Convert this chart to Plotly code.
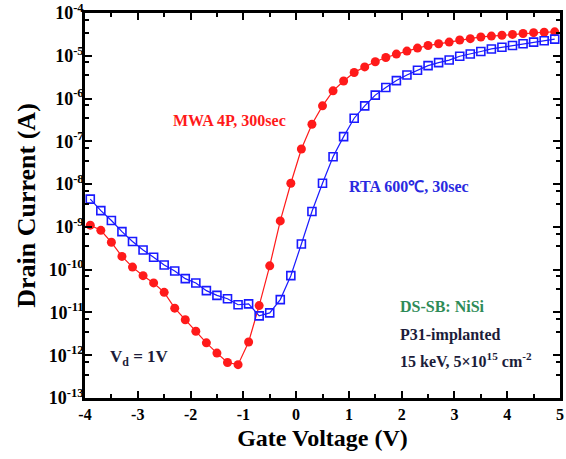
import plotly.graph_objects as go

# Gate voltage (V) sample points shared by both curves
vg = [-3.9, -3.7, -3.5, -3.3, -3.1, -2.9, -2.7, -2.5, -2.3, -2.1,
      -1.9, -1.7, -1.5, -1.3, -1.1, -0.9, -0.7, -0.5, -0.3, -0.1,
      0.1, 0.3, 0.5, 0.7, 0.9, 1.1, 1.3, 1.5, 1.7, 1.9,
      2.1, 2.3, 2.5, 2.7, 2.9, 3.1, 3.3, 3.5, 3.7, 3.9,
      4.1, 4.3, 4.5, 4.7, 4.9]

# log10 of drain current (A)
mwa_log = [-8.96, -9.08, -9.36, -9.69, -9.94, -10.14, -10.31, -10.53, -10.90, -11.17,
           -11.44, -11.71, -11.95, -12.17, -12.22, -11.69, -10.84, -9.91, -8.86, -7.98,
           -7.18, -6.60, -6.17, -5.82, -5.59, -5.39, -5.26, -5.14, -5.04, -4.96,
           -4.89, -4.82, -4.76, -4.72, -4.68, -4.63, -4.60, -4.56, -4.54, -4.52,
           -4.50, -4.48, -4.46, -4.45, -4.44]
rta_log = [-8.35, -8.62, -8.85, -9.11, -9.34, -9.54, -9.71, -9.89, -10.03, -10.21,
           -10.31, -10.49, -10.60, -10.68, -10.82, -10.80, -11.08, -11.01, -10.70, -10.14,
           -9.40, -8.64, -7.98, -7.36, -6.89, -6.46, -6.17, -5.92, -5.74, -5.58,
           -5.45, -5.34, -5.23, -5.16, -5.10, -5.01, -4.96, -4.90, -4.84, -4.80,
           -4.76, -4.72, -4.68, -4.65, -4.61]

mwa_current = [10 ** v for v in mwa_log]
rta_current = [10 ** v for v in rta_log]

x_ticks = [-4, -3, -2, -1, 0, 1, 2, 3, 4, 5]
x_ticklabels = ["-4", "-3", "-2", "-1", "0", "1", "2", "3", "4", "5"]
y_exponents = [-13, -12, -11, -10, -9, -8, -7, -6, -5, -4]
y_ticks = [10.0 ** e for e in y_exponents]
y_ticklabels = ["10<sup>%d</sup>" % e for e in y_exponents]
y_minor = [m * 10.0 ** e for e in y_exponents[:-1] for m in (3.5, 7)]

FONT = "Liberation Serif, Times New Roman, serif"

fig = go.Figure()
fig.add_trace(go.Scatter(
    x=vg, y=mwa_current, mode="lines+markers", name="MWA 4P, 300sec",
    line=dict(color="#ff1a1a", width=1.2),
    marker=dict(symbol="circle", size=9, color="#ff1a1a"),
))
fig.add_trace(go.Scatter(
    x=vg, y=rta_current, mode="lines+markers", name="RTA 600℃, 30sec",
    line=dict(color="#1a1aff", width=1.2),
    marker=dict(symbol="square-open", size=8, color="#1a1aff", line=dict(width=1.6)),
))

axis_common = dict(
    showline=True, linecolor="black", linewidth=2.5, mirror="ticks",
    ticks="inside", ticklen=7, tickwidth=2, tickcolor="black",
    showgrid=False, zeroline=False, automargin=False, ticklabeloverflow="allow",
)

fig.update_xaxes(
    range=[-4, 5], tickmode="array", tickvals=x_ticks, ticktext=x_ticklabels,
    tickfont=dict(family=FONT, size=16, color="black", weight="bold"),
    minor=dict(dtick=0.5, tick0=-4, ticks="inside", ticklen=4, tickwidth=2, tickcolor="black"),
    title=dict(text="Gate Voltage (V)", font=dict(family=FONT, size=24, color="black", weight="bold"),
               standoff=8),
    **axis_common,
)
fig.update_yaxes(
    type="log", range=[-13, -4], tickmode="array", tickvals=y_ticks, ticktext=y_ticklabels,
    tickfont=dict(family=FONT, size=18, color="black", weight="bold"),
    ticklabelstandoff=-5,
    minor=dict(tickmode="array", tickvals=y_minor, ticks="inside", ticklen=4, tickwidth=2, tickcolor="black"),
    title=dict(text="Drain Current (A)", font=dict(family=FONT, size=26, color="black", weight="bold"),
               standoff=6),
    **axis_common,
)

def note(text, x, y, color, anchor="left", size=15):
    fig.add_annotation(text=text, x=x, y=y, xref="paper", yref="paper",
                       xanchor=anchor, yanchor="middle", showarrow=False,
                       font=dict(family=FONT, size=size, color=color, weight="bold"))

note("MWA 4P, 300sec", 0.305, 0.720, "#ff1a1a", anchor="center", size=16)
note("RTA 600℃, 30sec", 0.682, 0.549, "#2a2ae0", anchor="center", size=16)
note("DS-SB: NiSi", 0.659, 0.237, "#2e8b57", size=16)
note("P31-implanted", 0.659, 0.164, "#1c1c3a", size=16)
note("15 keV, 5×10<sup>15</sup> cm<sup>-2</sup>", 0.659, 0.099, "#1c1c3a", size=16)
note("V<sub>d</sub> = 1V", 0.048, 0.103, "#1c1c3a", size=17)

fig.update_layout(
    width=566, height=459,
    margin=dict(l=85, r=6, t=13, b=61),
    paper_bgcolor="white", plot_bgcolor="white",
    showlegend=False,
)

fig.write_html("out.html", config={"displayModeBar": False},
               post_script="document.body.style.margin='0';document.body.style.padding='0';")
